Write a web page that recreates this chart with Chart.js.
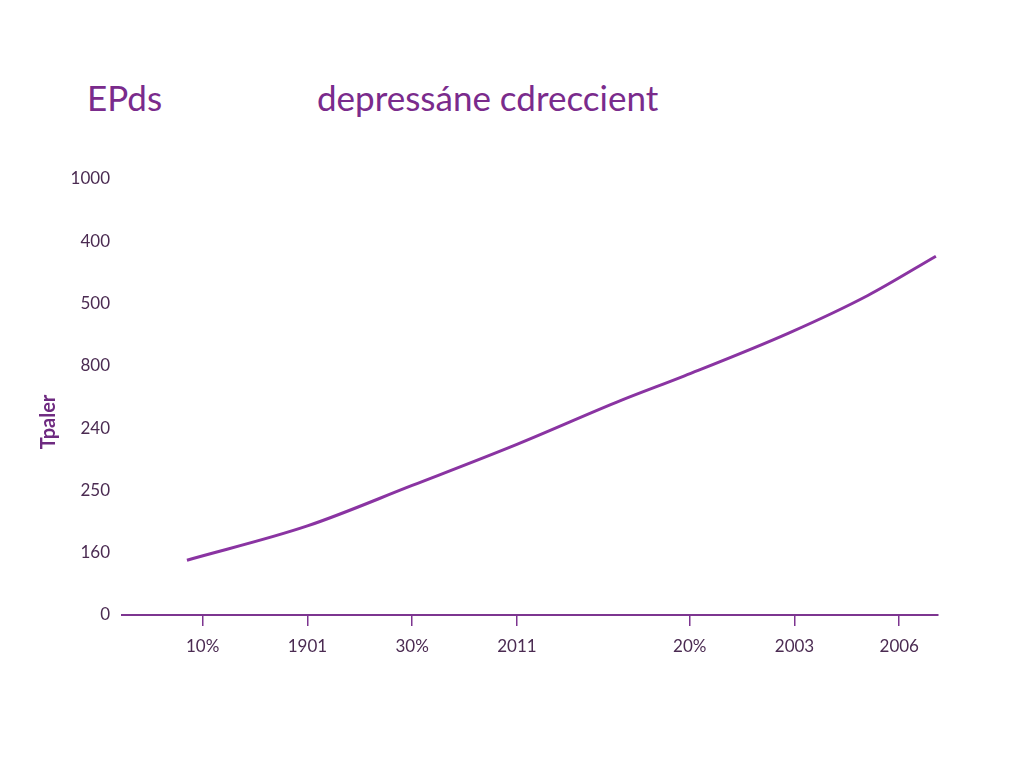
<!DOCTYPE html>
<html>
<head>
<meta charset="utf-8">
<script src="https://cdn.jsdelivr.net/npm/chart.js@4/dist/chart.umd.min.js"></script>
<style>
html,body{margin:0;padding:0;background:#fff;width:1024px;height:768px;overflow:hidden;}
#wrap{position:relative;width:1024px;height:768px;}
canvas{position:absolute;left:0;top:0;}
.t{position:absolute;font-family:"Lato","Open Sans",sans-serif;color:#7a2b8c;font-size:35px;line-height:1;white-space:nowrap;}
</style>
</head>
<body>
<div id="wrap">
<div class="t" id="t1" style="left:87px;top:80px;">EPds</div>
<div class="t" id="t2" style="left:317px;top:80px;">depressáne cdreccient</div>
<canvas id="c" width="1024" height="768"></canvas>
</div>
<script>
const chartTitleLeft = "EPds";
const chartTitleMain = "depressáne cdreccient";
const yAxisTitle = "Tpaler";
const yTickLabels = ["0", "160", "250", "240", "800", "500", "400", "1000"];
const xTickPositions = [1, 2, 3, 4, 5.65, 6.65, 7.65];
const xTickLabels = ["10%", "1901", "30%", "2011", "20%", "2003", "2006"];
const seriesX = [0.85, 2.0, 3.0, 4.0, 5.0, 5.6, 6.6, 7.35, 8.0];
const seriesY = [0.88, 1.43, 2.08, 2.74, 3.45, 3.84, 4.53, 5.13, 5.76];

const purple = "#8a34a2";
const axisPurple = "#7d3590";
const tickColor = "#4b2b52";

document.getElementById("t1").textContent = chartTitleLeft;
document.getElementById("t2").textContent = chartTitleMain;

const yTitlePlugin = {
  id: "yTitle",
  afterDraw(chart) {
    const ctx = chart.ctx;
    ctx.save();
    ctx.translate(49, 422);
    ctx.rotate(-Math.PI / 2);
    ctx.fillStyle = "#6e2a80";
    ctx.font = "bold 20px Lato, 'Open Sans', sans-serif";
    ctx.textAlign = "center";
    ctx.textBaseline = "middle";
    ctx.fillText(yAxisTitle, 0, 0);
    ctx.restore();
  }
};

new Chart(document.getElementById("c"), {
  type: "line",
  data: {
    datasets: [{
      data: seriesX.map((x, i) => ({x: x, y: seriesY[i]})),
      borderColor: purple,
      borderWidth: 3,
      pointRadius: 0,
      cubicInterpolationMode: "monotone",
      fill: false,
      clip: false
    }]
  },
  options: {
    responsive: false,
    animation: false,
    layout: {padding: {left: 0, top: 179, right: 86, bottom: 0}},
    plugins: {legend: {display: false}, tooltip: {enabled: false}, title: {display: false}},
    scales: {
      x: {
        type: "linear",
        min: 0.23,
        max: 8.02,
        afterFit(scale) { scale.height = 153; },
        afterBuildTicks(scale) { scale.ticks = xTickPositions.map(v => ({value: v})); },
        border: {display: true, color: axisPurple, width: 2},
        grid: {drawOnChartArea: false, drawTicks: true, tickLength: 11, color: axisPurple, lineWidth: 1.5},
        ticks: {
          autoSkip: false,
          maxRotation: 0,
          padding: 10,
          color: tickColor,
          font: {family: "Lato, 'Open Sans', sans-serif", size: 17},
          callback: (v) => { const i = xTickPositions.indexOf(v); return i >= 0 ? xTickLabels[i] : ""; }
        }
      },
      y: {
        type: "linear",
        min: 0,
        max: 7,
        afterFit(scale) { scale.width = 122; },
        border: {display: false},
        grid: {display: false, drawTicks: false},
        ticks: {
          stepSize: 1,
          padding: 12,
          color: tickColor,
          font: {family: "Lato, 'Open Sans', sans-serif", size: 17},
          callback: (v) => yTickLabels[v] !== undefined ? yTickLabels[v] : ""
        }
      }
    }
  },
  plugins: [yTitlePlugin]
});
</script>
</body>
</html>
